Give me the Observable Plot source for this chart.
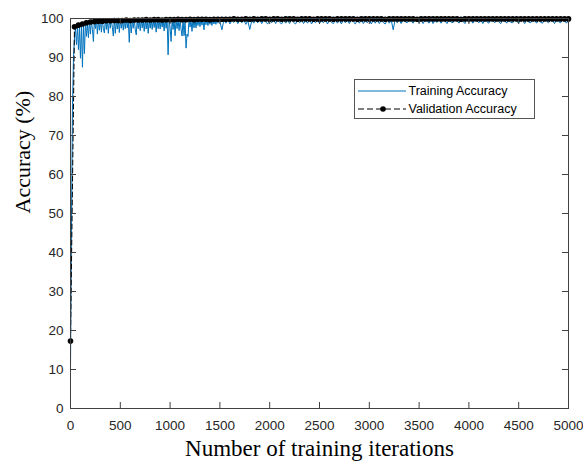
<!DOCTYPE html>
<html><head><meta charset="utf-8">
<script src="https://cdn.jsdelivr.net/npm/d3@7"></script>
<script src="https://cdn.jsdelivr.net/npm/@observablehq/plot@0.6"></script>
<style>
html,body{margin:0;padding:0;background:#fff;}
#wrap{position:relative;width:583px;height:470px;overflow:hidden;}
#legend{position:absolute;left:354px;top:79px;}
</style></head><body><div id="wrap"></div>
<script>
const xTicks = [0, 500, 1000, 1500, 2000, 2500, 3000, 3500, 4000, 4500, 5000];
const yTicks = [0, 10, 20, 30, 40, 50, 60, 70, 80, 90, 100];
const seriesLabels = ["Training Accuracy", "Validation Accuracy"];
const xLabel = "Number of training iterations";
const yLabel = "Accuracy (%)";

// Training accuracy, every 10 iterations from 0 to 1490
const trainStartA = 0, trainStepA = 10;
const trainAccA = [
  10, 48, 78, 90, 95, 97.5, 93.3, 98, 92, 97.5,
  89.8, 98.5, 87.5, 98, 91, 99.5, 95.4, 98.5, 95.1, 99.6,
  96, 99.7, 97.2, 94.1, 99.6, 97.4, 99.8, 96, 99.7, 97,
  99.8, 96.5, 99.6, 97.4, 96.3, 99.8, 97.2, 99.7, 96.2, 99.8,
  97.5, 99.7, 97.8, 95.5, 99.8, 96.2, 99.7, 97.3, 99.9, 96.4,
  99.7, 97.5, 99.8, 97, 99.7, 97.4, 99.9, 97.6, 99.7, 93.9,
  99.8, 96.3, 99.7, 97.5, 99.9, 97.2, 95.8, 99.8, 97.4, 99.7,
  96.9, 99.8, 97.6, 99.7, 96.7, 99.9, 97.3, 99.8, 96.2, 99.7,
  97.5, 99.8, 97.2, 99.7, 97.7, 99.9, 96.5, 99.8, 97.4, 99.7,
  97.3, 99.8, 97.8, 99.7, 96.8, 99.9, 97.5, 99.8, 90.7, 99.7,
  97.6, 94.1, 99.8, 97.2, 99.7, 95.6, 99.9, 97.4, 99.8, 96.9,
  99.7, 97.3, 95.5, 99.8, 95.6, 99.7, 92.4, 96, 95.4, 99.8,
  97.8, 99.7, 96.7, 99.9, 97.6, 99.8, 97.6, 99.7, 98.2, 99.9,
  97.9, 99.8, 98.3, 99.7, 97.1, 99.9, 98.4, 99.8, 98.2, 99.9,
  98.5, 99.8, 98.2, 99.9, 98.6, 99.7, 98.5, 99.9, 98.8, 99.7
];
// Training accuracy, every 20 iterations from 1500 to 5000
const trainStartB = 1500, trainStepB = 20;
const trainAccB = [
  99.2, 97.1, 99.6, 98.8, 99.7, 98.6, 99.5, 99.0, 99.8, 98.7,
  99.6, 98.9, 99.7, 98.5, 99.4, 97.2, 99.5, 98.8, 99.7, 98.9,
  99.8, 98.7, 99.5, 99.1, 98.6, 99.7, 98.9, 99.6, 98.7, 99.8,
  99.0, 98.6, 99.7, 98.8, 99.5, 98.7, 99.8, 99.0, 98.6, 99.6,
  98.9, 99.7, 98.7, 99.5, 98.8, 99.8, 98.6, 99.4, 98.9, 99.7,
  98.7, 99.6, 98.9, 99.8, 98.6, 99.5, 99.0, 98.7, 99.7, 98.8,
  99.6, 98.6, 99.8, 98.9, 99.5, 98.7, 99.7, 99.1, 98.6, 99.6,
  98.8, 99.8, 98.7, 99.5, 98.9, 99.7, 98.6, 99.6, 98.8, 99.8,
  98.7, 99.5, 99.0, 98.6, 99.7, 98.8, 99.6, 97.1, 99.8, 98.9,
  99.6, 98.7, 99.8, 99.2, 98.9, 99.7, 99.4, 98.8, 99.8, 99.5,
  98.9, 99.7, 98.7, 99.6, 99.3, 98.8, 99.8, 98.7, 99.5, 99.0,
  99.8, 98.8, 99.6, 99.4, 98.7, 99.7, 99.1, 98.9, 99.8, 99.5,
  98.8, 99.7, 99.3, 98.7, 99.8, 99.0, 99.6, 98.8, 99.7, 99.4,
  98.9, 99.8, 98.7, 99.6, 99.2, 98.8, 99.7, 99.5, 98.9, 99.8,
  99.1, 98.7, 99.6, 99.4, 98.8, 99.8, 99.0, 98.9, 99.7, 99.3,
  98.8, 99.8, 99.5, 98.7, 99.6, 99.1, 98.9, 99.8, 99.4, 98.8,
  99.7, 99.0, 98.8, 99.8, 99.3, 98.9, 99.6, 99.5, 98.7, 99.8,
  99.2, 98.9, 99.7, 99.4, 98.8, 99.6
];
// Validation accuracy, every 40 iterations from 0 to 5000
const valStep = 40;
const valAcc = [
  17.3, 97.9, 98.3, 98.6, 98.9, 99.1, 99.2, 99.3, 99.3, 99.4,
  99.4, 99.5, 99.5, 99.5, 99.6, 99.5, 99.6, 99.6, 99.6, 99.7,
  99.6, 99.7, 99.7, 99.6, 99.7, 99.7, 99.7, 99.8, 99.7, 99.7,
  99.8, 99.7, 99.8, 99.8, 99.8, 99.7, 99.8, 99.8, 99.8, 99.8,
  99.8, 99.9, 99.8, 99.8, 99.9, 99.8, 99.9, 99.8, 99.9, 99.9,
  99.8, 99.9, 99.9, 99.8, 99.9, 99.9, 99.9, 99.8, 99.9, 99.9,
  99.9, 99.8, 99.9, 99.9, 99.9, 99.9, 99.8, 99.9, 99.9, 99.9,
  99.9, 99.9, 99.8, 99.9, 99.9, 99.9, 99.9, 99.9, 99.9, 99.8,
  99.9, 99.9, 99.9, 99.9, 99.9, 99.9, 99.9, 99.8, 99.9, 99.9,
  99.9, 99.9, 99.9, 99.9, 99.9, 99.9, 99.9, 99.9, 99.8, 99.9,
  99.9, 99.9, 99.9, 99.9, 99.9, 99.9, 99.9, 99.9, 99.9, 99.9,
  99.9, 99.9, 99.9, 99.9, 99.9, 99.9, 99.9, 99.9, 99.9, 99.9,
  99.9, 99.9, 99.9, 99.9, 99.9, 99.9
];

const train = [
  ...trainAccA.map((a, i) => ({iter: trainStartA + i * trainStepA, acc: a})),
  ...trainAccB.map((a, i) => ({iter: trainStartB + i * trainStepB, acc: a}))
];
const val = valAcc.map((a, i) => ({iter: i * valStep, acc: a}));

const W = 583, H = 470, mL = 70, mR = 15, mT = 18, mB = 62;
const iw = W - mL - mR, ih = H - mT - mB;
const axisColor = "#404040";
const blue = "#0072BD";
const serif = "'Liberation Serif', 'Times New Roman', serif";

const chart = Plot.plot({
  width: W, height: H,
  marginLeft: mL, marginRight: mR, marginTop: mT, marginBottom: mB,
  style: {fontFamily: "'Liberation Sans', Arial, sans-serif", fontSize: "13.5px", color: "#262626", background: "#fff", overflow: "visible"},
  x: {domain: [0, 5000]},
  y: {domain: [0, 100]},
  marks: [
    Plot.line(train, {x: "iter", y: "acc", stroke: blue, strokeWidth: 1}),
    Plot.line(val, {x: "iter", y: "acc", stroke: "#000", strokeWidth: 1, strokeDasharray: "5,3"}),
    Plot.dot(val, {x: "iter", y: "acc", r: 2.8, fill: "#000", stroke: "none"}),
    Plot.frame({stroke: axisColor}),
    Plot.tickX(xTicks, {x: d => d, insetTop: ih - 6, stroke: axisColor}),
    Plot.tickX(xTicks, {x: d => d, insetBottom: ih - 6, stroke: axisColor}),
    Plot.tickY(yTicks, {y: d => d, insetRight: iw - 6, stroke: axisColor}),
    Plot.tickY(yTicks, {y: d => d, insetLeft: iw - 6, stroke: axisColor}),
    Plot.axisX(xTicks, {tickSize: 0, tickPadding: 12, label: null, tickFormat: d => String(d)}),
    Plot.axisY(yTicks, {tickSize: 0, tickPadding: 7, label: null, tickFormat: d => String(d)}),
    Plot.text([xLabel], {frameAnchor: "bottom", dy: 47, fontFamily: serif, fontSize: 23, fill: "#000"}),
    Plot.text([yLabel], {frameAnchor: "left", dx: -48, rotate: -90, fontFamily: serif, fontSize: 22, fill: "#000"})
  ]
});

const wrap = document.getElementById("wrap");
wrap.appendChild(chart);

// Legend (HTML overlay)
const legend = document.createElement("div");
legend.id = "legend";
legend.innerHTML = `
<svg width="181" height="40" xmlns="http://www.w3.org/2000/svg" style="display:block">
  <rect x="0.5" y="0.5" width="180" height="39" fill="#fff" stroke="#555" stroke-width="1"/>
  <line x1="4" y1="12" x2="52" y2="12" stroke="${blue}" stroke-width="1"/>
  <text x="54.5" y="12" dy="0.35em" font-family="'Liberation Sans', Arial, sans-serif" font-size="12.5" fill="#000">${seriesLabels[0]}</text>
  <line x1="4" y1="30" x2="52" y2="30" stroke="#000" stroke-width="1" stroke-dasharray="6,3"/>
  <circle cx="29" cy="30" r="2.8" fill="#000"/>
  <text x="54.5" y="30" dy="0.35em" font-family="'Liberation Sans', Arial, sans-serif" font-size="12.5" fill="#000">${seriesLabels[1]}</text>
</svg>`;
wrap.appendChild(legend);
</script>
</body></html>
